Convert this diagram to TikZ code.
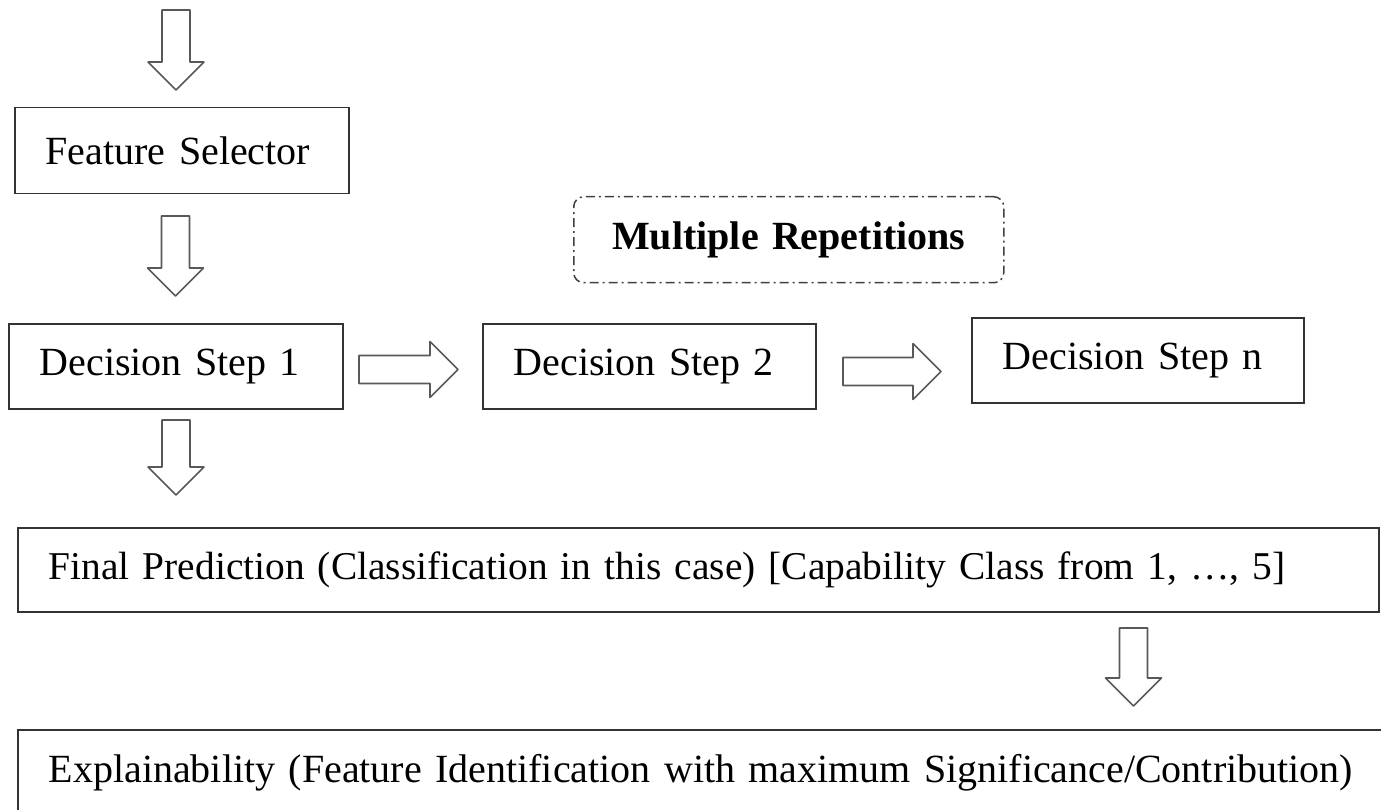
\documentclass[tikz,border=0pt]{standalone}
\usepackage{fontspec}
\setmainfont{Liberation Serif}
\begin{document}
\begin{tikzpicture}[x=1pt,y=-1pt,
  box/.style={draw=black!80, line width=1.5pt, rectangle, inner xsep=31pt, inner ysep=0pt,
    align=left, anchor=north west, font=\fontsize{40}{48}\selectfont},
  reps/.style={draw=black!75, line width=1.5pt, rounded corners=10pt, align=center,
    dash pattern=on 9pt off 4pt on 2pt off 4pt, anchor=north west, inner sep=0pt,
    font=\fontsize{40}{48}\selectfont\bfseries},
  blockarrow/.style={draw=black!65, line width=1.6pt, line join=round, fill=white},
  pics/darrow/.style={code={\draw[blockarrow] (-14,0) -- (14,0) -- (14,#1) -- (28,#1) -- (0,#1+28) -- (-28,#1) -- (-14,#1) -- cycle;}},
  pics/rarrow/.style={code={\draw[blockarrow] (0,-14) -- (#1,-14) -- (#1,-28) -- (#1+28,0) -- (#1,28) -- (#1,14) -- (0,14) -- cycle;}}
]
\useasboundingbox (0,0) rectangle (1381,810);
\clip (0,0) rectangle (1381,810);

% boxes
\node[box, minimum width=334pt, minimum height=86pt, text width=272pt] (fs) at (14,107) {Feature Selector};
\node[reps, minimum width=430pt, minimum height=86pt, text width=430pt] (mr) at (573,196) {Multiple Repetitions};
\node[box, minimum width=334pt, minimum height=85pt, text width=272pt] (ds1) at (8,323) {Decision Step 1};
\node[box, minimum width=333pt, minimum height=85pt, text width=271pt] (ds2) at (482,323) {Decision Step 2};
\node[box, minimum width=332pt, minimum height=85pt, text width=270pt, inner xsep=30pt] (dsn) at (971,317) {Decision Step n};
\node[box, minimum width=1361pt, minimum height=84pt, text width=1299pt, font=\fontsize{39.4}{48}\selectfont] (fp) at (17,527) {Final Prediction (Classification in this case) [Capability Class from 1, …, 5]};
\node[box, minimum width=1380pt, minimum height=86pt, text width=1318pt] (ex) at (17,729) {Explainability (Feature Identification with maximum Significance/Contribution)};

% block arrows
\coordinate (a0) at (176,10);
\coordinate (a1) at (175.5,216);
\coordinate (a2) at (176,420);
\coordinate (a3) at (1133.5,628);
\coordinate (r1) at (359,369.5);
\coordinate (r2) at (843,371.5);
\pic at (a0) {darrow=52};
\pic at (a1) {darrow=52};
\pic at (a2) {darrow=47};
\pic at (a3) {darrow=50};
\pic at (r1) {rarrow=71};
\pic at (r2) {rarrow=70};
\end{tikzpicture}
\end{document}
